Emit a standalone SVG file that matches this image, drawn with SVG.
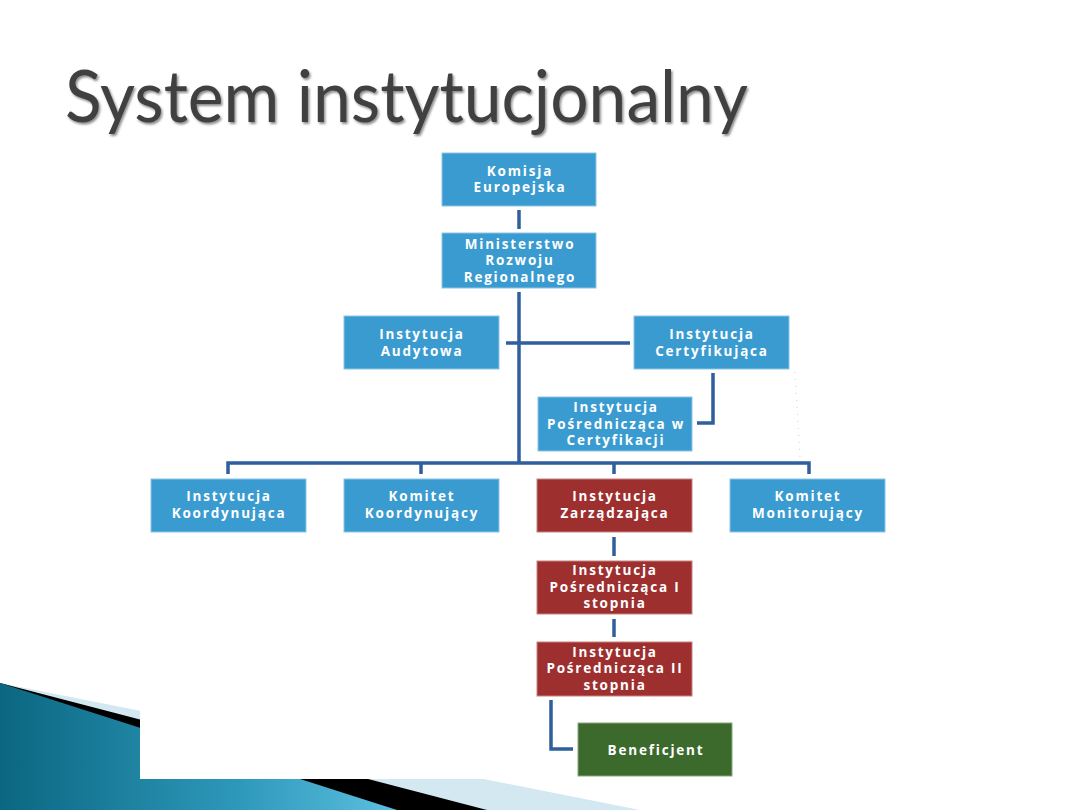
<svg xmlns="http://www.w3.org/2000/svg" width="1080" height="810" viewBox="0 0 1080 810">
<defs>
<linearGradient id="teal" x1="0" y1="0" x2="1" y2="0">
<stop offset="0" stop-color="#0b6781"/>
<stop offset="0.6" stop-color="#2e98bb"/>
<stop offset="1" stop-color="#5cbfe0"/>
</linearGradient>
<filter id="tshadow" x="-5%" y="-20%" width="110%" height="150%">
<feDropShadow dx="1.5" dy="2" stdDeviation="1.2" flood-color="#000" flood-opacity="0.45"/>
</filter>
<style>
.blue{fill:#3a9bd0;stroke:#8cc6e6;stroke-width:1}
.red{fill:#9e2f2f;stroke:#c88080;stroke-width:1}
.green{fill:#3b6a2c;stroke:#86a97c;stroke-width:1}
.lbl{font-family:"Open Sans","DejaVu Sans",sans-serif;font-weight:700;font-size:13.5px;fill:#ffffff;text-anchor:middle;letter-spacing:1.8px}
.con{fill:none;stroke:#2f5f9c;stroke-width:3.5;stroke-linejoin:miter}
</style>
</defs>
<rect x="0" y="0" width="1080" height="810" fill="#ffffff"/>
<g id="decoration">
<polygon points="0,683 640,810 0,810" fill="#d4e8f1"/>
<polygon points="0,683 487,810 0,810" fill="#000000"/>
<polygon points="0,683 397,810 0,810" fill="url(#teal)"/>
<rect x="140" y="140" width="760" height="639" fill="#ffffff"/>
</g>
<text x="65" y="122" font-family="Lato,'Open Sans',sans-serif" font-size="72" fill="#404040" textLength="683" lengthAdjust="spacingAndGlyphs" filter="url(#tshadow)">System instytucjonalny</text>
<g id="connectors">
<line class="con" x1="519" y1="210" x2="519" y2="229"/>
<line class="con" x1="519" y1="292" x2="519" y2="463"/>
<line class="con" x1="506" y1="343" x2="630" y2="343"/>
<polyline class="con" points="713,373 713,423 697,423"/>
<polyline class="con" points="228,474 228,463 809,463 809,474"/>
<line class="con" x1="421" y1="463" x2="421" y2="474"/>
<line class="con" x1="614" y1="463" x2="614" y2="474"/>
<line class="con" x1="614" y1="537" x2="614" y2="556"/>
<line class="con" x1="614" y1="619" x2="614" y2="637"/>
<polyline class="con" points="551,700 551,749 573,749"/>
<line x1="795" y1="372" x2="800" y2="458" stroke="#cfcfcf" stroke-width="1" stroke-dasharray="1,6"/>
</g>
<g id="komisja">
<rect class="blue" x="442" y="153" width="154" height="53"/>
<text class="lbl" x="520" y="176">Komisja</text>
<text class="lbl" x="520" y="192">Europejska</text>
</g>
<g id="ministerstwo">
<rect class="blue" x="442" y="233" width="154" height="55"/>
<text class="lbl" x="520" y="249">Ministerstwo</text>
<text class="lbl" x="520" y="265">Rozwoju</text>
<text class="lbl" x="520" y="282">Regionalnego</text>
</g>
<g id="audytowa">
<rect class="blue" x="344" y="316" width="155" height="53"/>
<text class="lbl" x="422" y="339">Instytucja</text>
<text class="lbl" x="422" y="356">Audytowa</text>
</g>
<g id="certyfikujaca">
<rect class="blue" x="634" y="316" width="155" height="53"/>
<text class="lbl" x="712" y="339">Instytucja</text>
<text class="lbl" x="712" y="356">Certyfikująca</text>
</g>
<g id="posrednicza-cert">
<rect class="blue" x="538" y="397" width="154" height="54"/>
<text class="lbl" x="616" y="412">Instytucja</text>
<text class="lbl" x="616" y="429">Pośrednicząca w</text>
<text class="lbl" x="616" y="445">Certyfikacji</text>
</g>
<g id="koordynujaca">
<rect class="blue" x="151" y="479" width="155" height="53"/>
<text class="lbl" x="229" y="501">Instytucja</text>
<text class="lbl" x="229" y="518">Koordynująca</text>
</g>
<g id="komitet-koord">
<rect class="blue" x="344" y="479" width="155" height="53"/>
<text class="lbl" x="422" y="501">Komitet</text>
<text class="lbl" x="422" y="518">Koordynujący</text>
</g>
<g id="zarzadzajaca">
<rect class="red" x="537" y="479" width="155" height="53"/>
<text class="lbl" x="615" y="501">Instytucja</text>
<text class="lbl" x="615" y="518">Zarządzająca</text>
</g>
<g id="monitorujacy">
<rect class="blue" x="730" y="479" width="155" height="53"/>
<text class="lbl" x="808" y="501">Komitet</text>
<text class="lbl" x="808" y="518">Monitorujący</text>
</g>
<g id="posrednicza1">
<rect class="red" x="537" y="561" width="155" height="53"/>
<text class="lbl" x="615" y="575">Instytucja</text>
<text class="lbl" x="615" y="592">Pośrednicząca I</text>
<text class="lbl" x="615" y="608">stopnia</text>
</g>
<g id="posrednicza2">
<rect class="red" x="537" y="642" width="155" height="54"/>
<text class="lbl" x="615" y="657">Instytucja</text>
<text class="lbl" x="615" y="673">Pośrednicząca II</text>
<text class="lbl" x="615" y="690">stopnia</text>
</g>
<g id="beneficjent">
<rect class="green" x="578" y="723" width="154" height="53"/>
<text class="lbl" x="656" y="755">Beneficjent</text>
</g>
</svg>
